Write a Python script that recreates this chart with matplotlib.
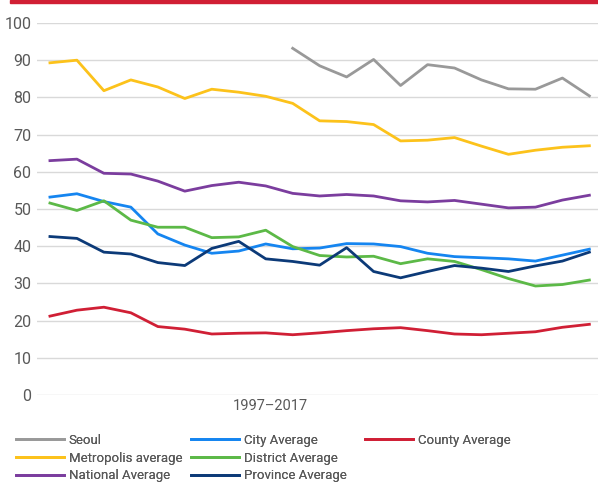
import numpy as np
import matplotlib
matplotlib.use('Agg')
import matplotlib.pyplot as plt
from matplotlib.patches import Rectangle

plt.rcParams['font.family'] = ['Roboto', 'DejaVu Sans']

# 1997-2017, 21 years
years = list(range(1997, 2018))

seoul_years = list(range(2006, 2018))
seoul = [93.2, 88.5, 85.5, 90.2, 83.2, 88.8, 87.9, 84.7, 82.3, 82.2, 85.2, 80.4]
metropolis = [89.3, 90.0, 81.8, 84.7, 82.8, 79.7, 82.2, 81.4, 80.3, 78.4,
              73.7, 73.5, 72.7, 68.3, 68.5, 69.2, 66.9, 64.7, 65.8, 66.6, 67.0]
national = [63.0, 63.4, 59.6, 59.4, 57.5, 54.8, 56.3, 57.2, 56.2, 54.2,
            53.5, 53.9, 53.5, 52.2, 51.9, 52.3, 51.3, 50.3, 50.5, 52.4, 53.7]
city = [53.2, 54.1, 52.0, 50.5, 43.3, 40.3, 38.1, 38.7, 40.6, 39.3,
        39.5, 40.7, 40.6, 39.9, 38.1, 37.2, 36.9, 36.6, 36.0, 37.6, 39.2]
district = [51.6, 49.6, 52.2, 47.0, 45.1, 45.1, 42.3, 42.5, 44.3, 39.9,
            37.5, 37.1, 37.3, 35.3, 36.6, 35.9, 33.7, 31.3, 29.3, 29.7, 30.9]
province = [42.6, 42.1, 38.4, 37.9, 35.6, 34.8, 39.4, 41.3, 36.6, 35.9,
            34.9, 39.6, 33.2, 31.5, 33.2, 34.8, 34.1, 33.2, 34.7, 36.0, 38.4]
county = [21.2, 22.8, 23.6, 22.1, 18.4, 17.7, 16.4, 16.6, 16.7, 16.2,
          16.7, 17.3, 17.8, 18.1, 17.3, 16.4, 16.2, 16.6, 17.0, 18.2, 19.0]

yticks = [0, 10, 20, 30, 40, 50, 60, 70, 80, 90, 100]

fig = plt.figure(figsize=(5.98, 4.82), dpi=100)
ax = fig.add_axes([37/598, 1 - 395/482, 561/598, 372/482])

lw = 2.0
ax.plot(seoul_years, seoul, color='#999999', lw=lw, label='Seoul')
ax.plot(years, metropolis, color='#fcc21b', lw=lw, label='Metropolis average')
ax.plot(years, national, color='#7b3d9e', lw=lw, label='National Average')
ax.plot(years, city, color='#1585f0', lw=lw, label='City Average')
ax.plot(years, district, color='#5cb947', lw=lw, label='District Average')
ax.plot(years, province, color='#0c3a78', lw=lw, label='Province Average')
ax.plot(years, county, color='#d01f35', lw=lw, label='County Average')

ax.set_ylim(0, 100)
ax.set_xlim(1997 - 0.48, 2017 + 0.32)
ax.set_yticks(yticks)
ax.set_xticks([])
ax.tick_params(axis='y', length=0, pad=4, labelsize=11.5, labelcolor='#595959')
ax.grid(axis='y', color='#d9d9d9', lw=1)
ax.set_axisbelow(True)
for s in ax.spines.values():
    s.set_visible(False)

fig.text(270/598, 1 - 406/482, '1997\u20132017', ha='center', va='center',
         fontsize=10.5, color='#595959')

# red rule at the top
fig.patches.append(Rectangle((10/598, 1 - 3/482), 588/598, 3/482,
                             transform=fig.transFigure, color='#d11f34', zorder=5))

# legend: three columns at fixed spots
handles, labels = ax.get_legend_handles_labels()
groups = [(0, 3, 16), (3, 6, 191), (6, 7, 365)]
for a, b, x0 in groups:
    leg = fig.legend(handles[a:b], labels[a:b], loc='upper left',
                     bbox_to_anchor=(x0/598, 1 - 434/482), frameon=False,
                     fontsize=9.5, labelcolor='#595959', handlelength=3.6,
                     handletextpad=0.4, labelspacing=0.36, borderaxespad=0,
                     borderpad=0)
    fig.add_artist(leg)

fig.savefig('out.png', dpi=100)
